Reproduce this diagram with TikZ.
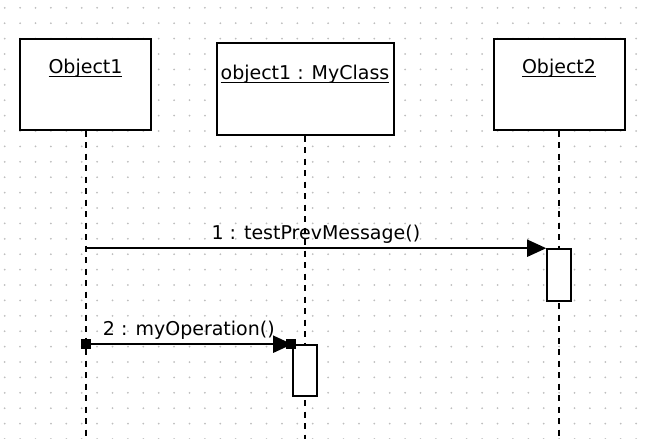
\documentclass[tikz,border=0pt]{standalone}
\usepackage{fontspec}
\setmainfont{DejaVu Sans}
\usetikzlibrary{arrows.meta, positioning}
\definecolor{ponto}{RGB}{190, 190, 190}
\newcommand{\sublinha}[1]{\underline{\raisebox{0pt}[\height][0pt]{#1}}}
\tikzset{
  objeto/.style={draw, line width=1pt, fill=white, inner sep=0pt},
  titulo/.style={font=\fontsize{9.5}{11}\selectfont, inner sep=1pt},
  vida/.style={line width=1pt, dash pattern=on 3pt off 2.75pt},
  ativa/.style={draw, line width=0.8pt, fill=white, minimum width=12pt, minimum height=26pt, inner sep=0pt},
  msg/.style={line width=0.9pt, -{Triangle[length=9.5pt, width=8.5pt]}},
  rotulo/.style={font=\fontsize{9.5}{11}\selectfont, inner sep=2pt},
  alca/.style={fill=black, minimum size=5pt, inner sep=0pt},
}
\begin{document}
\begin{tikzpicture}[x=0.5pt, y=-0.5pt]

\useasboundingbox (0,0) rectangle (648,439);

% grade de pontos
\foreach \i in {0,...,41}
  \foreach \j in {0,...,28}
    \fill[ponto] (4.7+15.4*\i, 7.8+15.4*\j) circle (0.5pt);

% objetos
\node[objeto, minimum width=65.5pt, minimum height=45.5pt] (obj1) at (85.5,84) {};
\node[objeto, minimum width=88.5pt, minimum height=46pt] (cls) at (305,88.5) {};
\node[objeto, minimum width=65.5pt, minimum height=45.5pt] (obj2) at (559,84) {};

\node[titulo, below=9.5pt of obj1.north] {\sublinha{Object1}};
\node[titulo, below=10.5pt of cls.north] {\sublinha{object1 : MyClass}};
\node[titulo, below=9.5pt of obj2.north] {\sublinha{Object2}};

% linhas de vida
\coordinate (fim1) at (obj1.south |- 0,439);
\coordinate (fim2) at (cls.south |- 0,439);
\coordinate (fim3) at (obj2.south |- 0,439);
\draw[vida] (obj1.south) -- (fim1);
\draw[vida] (cls.south) -- (fim2);
\draw[vida] (obj2.south) -- (fim3);

% ativacoes
\node[ativa] (act2) at (559,275) {};
\node[ativa, minimum height=25.5pt] (act1) at (305,370.5) {};

% mensagens
\coordinate (m1) at (obj1.south |- act2.north);
\coordinate (m2) at (obj1.south |- act1.north);
\draw[msg] (m1) -- (act2.north west)
  node[rotulo, midway, above] {1 : testPrevMessage()};
\draw[msg] (m2) -- (act1.north west)
  node[rotulo, midway, above] {2 : myOperation()};

% alcas de selecao
\node[alca] (h1) at (m2) {};
\node[alca] (h2) at ([xshift=-0.5pt]act1.north west) {};

\end{tikzpicture}
\end{document}
